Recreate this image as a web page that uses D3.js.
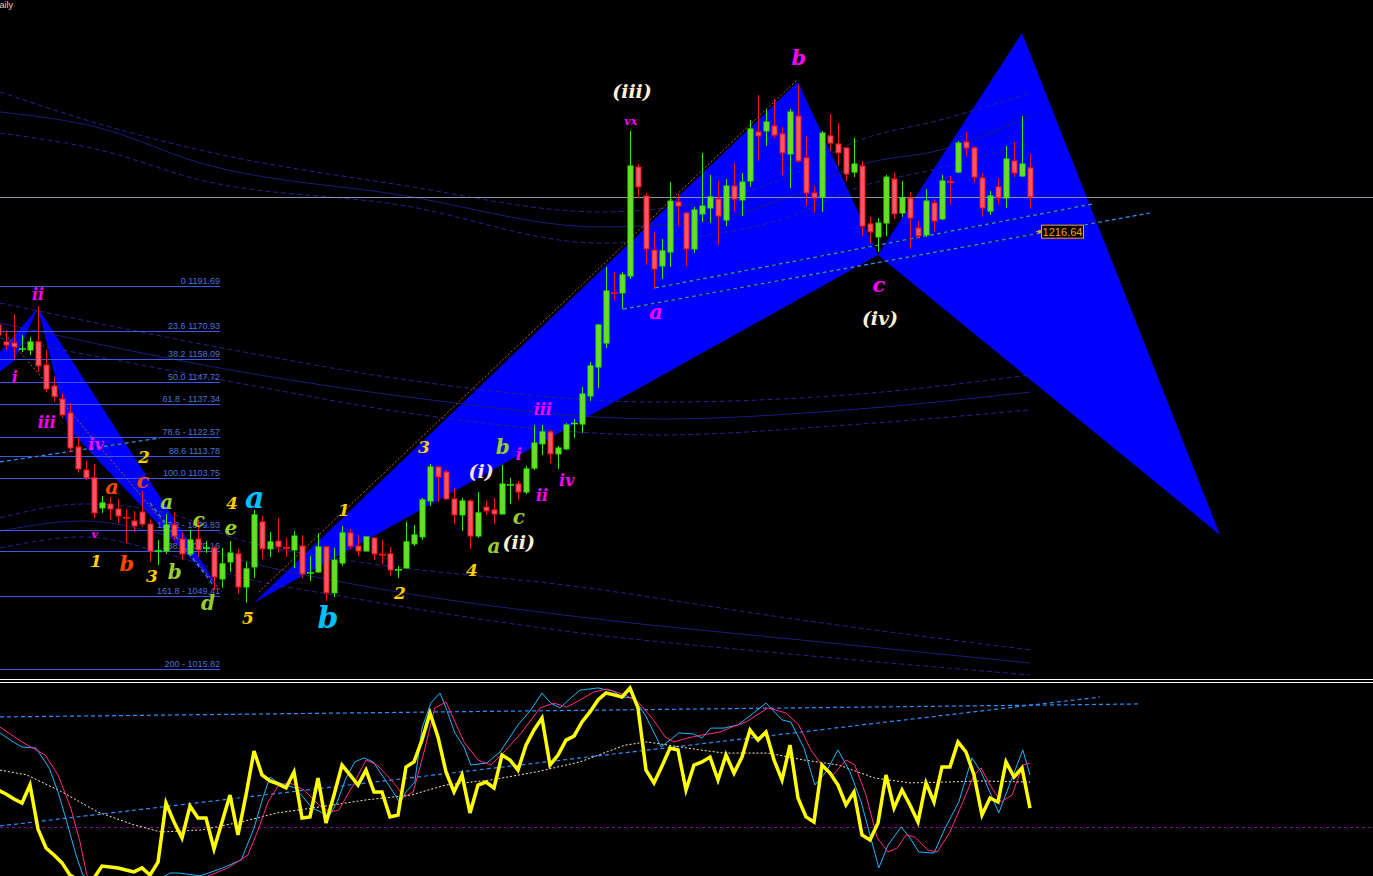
<!DOCTYPE html>
<html><head><meta charset="utf-8">
<script src="https://cdn.jsdelivr.net/npm/d3@7"></script>
<style>html,body{margin:0;padding:0;background:#000;overflow:hidden}</style>
</head><body>
<svg id="c" width="1373" height="876"></svg>
<script>
// ---------------- DATA ----------------
const opens = [1173.8,1166.0,1165.5,1162.7,1162.3,1166.1,1155.4,1145.8,1139.8,1133.4,
1117.8,1107.2,1103.6,1089.8,1091.6,1089.3,1085.6,1083.8,1087.9,1082.4,
1069.8,1070.0,1082.0,1075.5,1068.7,1075.5,1071.2,1071.4,1057.2,1065.0,
1068.7,1053.5,1062.7,1083.4,1071.0,1074.6,1071.9,1070.5,1072.3,1059.7,
1060.4,1071.9,1050.8,1064.5,1078.3,1072.3,1070.0,1076.0,1068.7,1068.7,
1061.1,1062.2,1073.3,1076.5,1093.0,1108.6,1106.3,1093.9,1086.6,1093.0,
1076.9,1090.2,1088.9,1087.0,1100.1,1100.8,1097.1,1108.1,1119.2,1124.7,
1114.6,1116.9,1128.3,1128.3,1141.2,1154.5,1165.5,1188.7,1188.5,1196.3,
1246.3,1233.0,1208.2,1200.9,1207.3,1230.3,1225.2,1208.7,1224.8,1227.5,
1231.6,1222.0,1237.6,1231.2,1239.9,1262.4,1262.9,1265.2,1261.5,1252.3,
1269.7,1250.5,1234.4,1232.6,1260.6,1256.9,1255.1,1244.0,1246.8,1220.2,
1214.2,1220.6,1240.8,1225.2,1232.1,1218.3,1215.1,1229.8,1222.5,1239.9,
1244.0,1257.8,1255.1,1241.3,1226.1,1237.2,1232.1,1249.1,1242.2,1245.9];
const highs = [1176.1,1171.5,1178.8,1169.2,1168.3,1182.5,1162.3,1149.9,1142.6,1138.0,
1122.4,1111.4,1110.0,1095.3,1094.8,1093.9,1089.3,1088.4,1097.6,1084.7,
1075.1,1087.0,1087.9,1078.8,1079.7,1084.3,1074.6,1072.3,1071.4,1074.6,
1071.0,1065.0,1088.9,1086.1,1078.8,1085.2,1076.0,1079.2,1077.4,1067.7,
1078.3,1072.3,1071.4,1081.5,1080.1,1077.4,1076.5,1076.5,1075.1,1071.9,
1063.2,1083.4,1082.0,1094.4,1110.0,1109.1,1107.2,1099.0,1094.4,1093.9,
1097.1,1093.0,1094.4,1109.5,1103.6,1102.2,1109.1,1127.9,1127.9,1125.6,
1118.2,1128.8,1130.6,1145.3,1156.8,1174.3,1200.4,1198.1,1198.1,1262.9,
1247.7,1234.4,1216.5,1213.3,1239.4,1233.9,1225.7,1228.0,1252.8,1242.7,
1239.9,1240.8,1248.2,1243.6,1267.9,1279.4,1273.0,1277.6,1264.7,1273.0,
1284.0,1260.6,1237.6,1262.9,1270.7,1266.5,1255.5,1259.6,1249.1,1223.4,
1222.9,1242.7,1243.6,1239.9,1234.9,1221.5,1236.2,1231.6,1242.7,1242.2,
1258.3,1262.4,1256.0,1243.6,1235.3,1241.3,1256.0,1257.8,1269.7,1252.3];
const lows = [1164.6,1162.3,1158.2,1161.4,1160.0,1152.4,1143.0,1138.4,1131.1,1115.5,
1105.9,1102.6,1085.2,1087.5,1084.3,1082.9,1073.7,1078.8,1081.1,1065.0,
1063.6,1068.7,1075.1,1065.9,1067.7,1067.3,1069.1,1052.1,1053.1,1060.4,
1050.3,1046.2,1057.6,1066.4,1067.3,1069.1,1067.3,1062.2,1057.6,1056.3,
1059.9,1047.1,1048.9,1063.2,1071.0,1067.7,1070.0,1065.9,1064.1,1058.6,
1057.6,1062.2,1072.3,1075.1,1090.7,1092.5,1093.5,1082.4,1079.2,1071.0,
1076.0,1086.6,1082.4,1087.0,1091.6,1093.5,1096.2,1107.2,1114.1,1110.4,
1107.7,1116.4,1121.9,1124.2,1138.9,1144.9,1163.2,1184.8,1181.1,1194.9,
1232.1,1201.3,1190.3,1194.9,1200.4,1219.2,1200.9,1206.9,1221.1,1220.6,
1210.5,1219.2,1226.1,1223.8,1237.2,1249.1,1256.0,1259.6,1242.7,1236.7,
1248.2,1228.4,1225.2,1225.7,1253.7,1246.8,1239.9,1241.7,1214.6,1211.4,
1207.3,1214.6,1222.5,1223.4,1208.7,1213.7,1214.2,1216.5,1222.0,1228.9,
1243.6,1250.9,1239.0,1223.4,1224.3,1228.9,1227.5,1241.7,1241.7,1227.1];
const closes = [1169.2,1164.6,1163.8,1162.9,1166.0,1155.0,1144.4,1140.9,1132.5,1117.3,
1107.7,1103.6,1087.5,1092.1,1089.3,1086.1,1084.9,1081.5,1082.4,1070.0,
1070.3,1082.0,1076.9,1068.7,1075.1,1070.5,1071.6,1058.1,1064.1,1069.1,
1053.5,1061.8,1086.6,1071.0,1074.2,1071.9,1071.0,1076.9,1059.5,1060.2,
1071.9,1050.8,1065.9,1078.3,1072.3,1070.0,1076.5,1068.7,1067.9,1061.3,
1061.6,1074.2,1077.4,1093.5,1108.6,1104.0,1093.9,1086.6,1093.0,1076.9,
1087.5,1088.4,1087.0,1100.8,1100.6,1097.1,1107.7,1119.6,1124.7,1114.6,
1117.3,1127.9,1128.8,1142.1,1155.0,1173.8,1189.4,1188.2,1196.8,1246.8,
1237.2,1208.7,1199.5,1207.8,1230.7,1228.4,1208.7,1226.6,1228.4,1232.6,
1223.8,1237.6,1231.6,1239.4,1263.8,1260.6,1267.0,1261.0,1252.8,1271.6,
1249.1,1234.4,1232.1,1261.9,1257.3,1252.8,1243.1,1247.7,1219.2,1216.5,
1220.6,1241.7,1224.8,1232.1,1222.9,1214.7,1230.7,1221.5,1239.9,1239.0,
1257.3,1255.1,1241.7,1227.5,1233.0,1232.1,1250.0,1243.6,1247.7,1232.6];

// harmonic patterns: X, A, B, C, D  (bar index, price)
const bigPatIdx = [32, 100, 110, 128, 152.75];
const bigPatPrice = [1046.2, 1285.4, 1205.9, 1307.8, 1077.4];
const leftPatIdx = [-6, 2, 5, 8.75, 27.75];
const leftPatPrice = [1134.8, 1157.3, 1181.6, 1126.5, 1052.1];

// fibonacci retracement
const fibLevels = ["0","23.6","38.2","50.0","61.8 -","78.6 -","88.6","100.0","127.2 -","138.2","161.8 -","200 -"];
const fibPrices = [1191.69,1170.93,1158.09,1147.72,1137.34,1122.57,1113.78,1103.75,1079.83,1070.16,1049.41,1015.82];
const fibEndIdx = 27.75;

// envelope bands (bar index, price)
const bandIdx = [0.25, 12.75, 25.25, 50.25, 75.25, 87.75, 97.75, 107.75, 117.75, 129];
const bandU1 = [1280.8, 1266.0, 1254.1, 1238.1, 1225.7, 1229.8, 1240.4, 1258.7, 1267.9, 1280.3];
const bandU2 = [1271.6, 1264.2, 1248.2, 1233.5, 1218.8, 1221.1, 1231.2, 1247.3, 1254.1, 1269.3];
const bandU3 = [1261.9, 1254.1, 1240.4, 1228.9, 1211.4, 1214.7, 1222.0, 1237.2, 1245.9, 1257.4];
const midIdx = [0.25, 32.75, 50.25, 82.75, 106.25, 129];
const bandM1 = [1183.9, 1160.0, 1149.0, 1138.4, 1141.7, 1150.8];
const bandM2 = [1174.7, 1150.8, 1141.2, 1130.6, 1134.8, 1143.0];
const bandM3 = [1167.8, 1145.3, 1133.9, 1123.3, 1127.9, 1134.8];
const lowIdx = [0.25, 10.75, 20.75, 30.25, 43.5, 72.75, 100.25, 129];
const bandL1 = [1085.2, 1091.6, 1087.9, 1075.1, 1065.9, 1053.5, 1038.4, 1024.6];
const bandL2 = [1079.2, 1083.8, 1077.4, 1065.9, 1055.4, 1039.7, 1029.2, 1018.6];
const bandL3 = [1071.4, 1076.5, 1069.1, 1058.1, 1048.9, 1032.4, 1022.3, 1013.1];

// trend lines [idx0, idx1], [price0, price1]
const trendIdx = [[82.125, 136.75], [78.125, 144], [0.25, 20.25], [19, 26.9]];
const trendPrice = [[1190.8, 1229.3], [1181.1, 1225.2], [1110.9, 1121.9], [1092.1, 1054.4]];
const brownIdx = [[0.25, 28], [32.6, 99.9]];
const brownPrice = [[1172.4, 1051.2], [1051.2, 1286.3]];
const priceTag = 1216.64, priceTagIdx = 130.25;
const bidPrice = 1232.6;

// wave labels
const waveText = ["ii","i","iii","iv","v","2","c","a","1","b","3","a","c","b","e","d","4","a","5","b","1","2","3","4","(i)","b","i","c","a","(ii)","ii","iv","iii","(iii)","vx","a","b","c","(iv)"];
const waveIdx = [5,2.1,6.1,12.25,12.1,18.25,18.1,14.25,12.25,16.1,19.25,21.1,25.1,22.1,29.1,26.25,29.25,32.1,31.25,41.25,43.25,50.25,53.25,59.25,60.4,63.1,65.1,65.1,62,65.1,68,71.1,68.1,79.25,79.1,82.25,100.1,110.1,110.25];
const wavePrice = [1188.0,1149.9,1128.8,1118.7,1077.4,1113.2,1102.6,1099.4,1065.4,1064.5,1058.6,1092.5,1084.3,1060.4,1080.6,1046.2,1092.1,1094.4,1039.3,1039.7,1088.9,1050.7,1117.8,1061.3,1106.8,1117.8,1114.1,1085.6,1072.3,1074.2,1095.3,1102.2,1135.2,1281.2,1267.4,1179.8,1296.8,1192.2,1177.0];
const waveDegree = ["sub","sub","sub","sub","tiny","num","orng","orng","num","orng","num","grn","grn","grn","grn","grn","num","big","num","big","num","num","num","num","pink","grn","sub","grn","grn","cream","sub","sub","sub","cream","tiny","subL","subL","subL","cream"];

// oscillator (0..100)
const oscMain = [47.6,45.7,43.3,41.4,50.0,29.0,20.0,16.7,12.9,7.1,
4.8,3.8,5.7,11.4,11.0,10.5,9.5,8.6,10.5,7.1,
13.3,41.4,32.4,24.8,40.0,34.3,34.3,19.5,32.4,45.2,
26.2,45.2,66.2,54.8,51.9,50.5,48.6,56.2,34.3,34.8,
53.3,31.9,45.2,59.5,54.8,50.0,57.1,46.7,46.7,34.8,
35.7,58.6,61.0,71.4,84.3,72.9,56.2,46.7,54.8,36.7,
50.0,51.4,48.6,64.3,61.9,57.1,69.0,76.2,81.9,59.5,
64.3,71.4,73.3,80.0,84.8,90.5,93.8,92.9,91.9,96.2,
86.7,57.1,51.0,59.0,67.6,66.7,47.6,59.5,61.0,63.3,
52.4,64.3,55.7,63.3,76.2,71.4,75.2,61.9,52.4,69.0,
43.8,34.8,32.4,59.5,55.7,50.0,40.5,46.7,26.2,23.8,
31.9,54.8,39.0,47.6,40.5,32.4,51.0,41.9,58.6,58.6,
70.5,65.7,54.8,35.7,43.8,41.9,61.0,53.8,58.1,39.0];
const cyanIdx = [0.25,1.9,3,4.75,6.4,7.5,8.6,9.75,10.6,12.75,19,21.5,22.6,25.25,28.1,30.4,32,33.1,34,34.9,36,37.1,38.25,39.25,40.4,41.25,42.4,43.5,44.6,45.75,46.9,48.25,49.4,50.25,51,52.1,53,54.1,55.25,56,57.1,58.25,59.1,61.1,62.75,65,66.6,68,69.1,70.25,71.6,72.75,75,76.75,78.1,79.5,80.9,82.9,84,85.1,86.9,88,89.1,90.75,92.5,94.1,96,98,99.1,100.75,102.1,103.5,105,106.5,107.9,109,110.1,111.25,112.9,114,115.1,117,118.4,120.1,121.75,122.9,125.1,126.75,128.1,129];
const cyanVal = [74.8,70.5,68.1,67.6,58.1,46.7,32.4,16.7,7.1,2.4,2.4,8.1,8.1,6.7,10.5,14.3,29.5,43.8,53.8,51.4,50.0,48.6,43.8,39.0,37.1,34.3,41.9,53.3,61.0,62.9,61.0,53.3,46.7,41.4,46.7,51.4,77.1,89.0,93.8,86.7,74.8,68.1,59.5,60.5,65.7,78.6,85.7,93.8,89.0,86.7,91.4,95.2,96.2,94.8,91.9,91.4,83.3,68.1,71.4,74.8,74.3,72.4,77.1,77.1,78.6,83.3,89.0,81.0,80.0,67.6,50.0,56.2,66.7,56.2,41.9,26.2,10.5,21.4,30.0,24.8,18.1,17.6,29.5,41.9,62.9,56.2,36.7,53.3,66.7,54.8];
const pinkIdx = [0.25,3,5.9,7.5,9.1,10.25,11.1,12.75,22.6,28.75,31.25,32.6,33.75,35.1,36.5,38.25,40.1,41.5,42.6,44.4,46,47.4,49.4,50.75,51.9,53.25,54.6,56,56.9,58.25,60,61.6,63.25,65.5,67.75,69.5,71.1,72.75,74.5,76.1,78.4,80,81.75,83.4,84.5,86.25,88,90.25,91.4,93.5,96.25,98.5,100.1,101.6,103,104.4,106,107.1,108.5,109.9,111.25,112.4,113.5,114.6,116.25,117.4,119,120.6,122,122.9,124,125.4,126.75,128.1,129];
const pinkVal = [77.6,70.5,64.3,54.8,39.0,22.9,7.1,1.0,1.0,10.5,16.7,29.5,41.9,50.0,51.0,47.6,40.5,37.1,38.1,50.0,61.9,59.5,51.4,44.3,46.7,65.7,86.7,89.5,81.9,70.5,61.9,59.5,65.7,75.2,86.7,89.0,87.1,90.5,94.3,95.7,92.9,89.5,81.9,72.9,70.5,72.4,73.8,75.2,77.1,80.0,86.7,84.3,78.6,66.7,59.5,54.8,61.9,59.5,45.2,24.8,18.1,20.0,26.2,25.2,19.0,18.1,27.6,41.9,54.8,58.1,50.0,41.9,45.2,59.5,60.5];
const signalIdx = [0.25,3.6,8,12.5,17,20.4,25.4,30.4,34.9,39.25,46,51.6,56,61.6,67.25,72.75,78.4,81.1,87.75,90.75,96.25,100.75,105.1,109.6,114,118.4,122.9,129];
const signalVal = [57.1,54.8,46.7,37.1,31.0,27.6,28.6,32.4,36.7,39.0,42.9,45.2,50.0,52.4,56.2,61.0,69.0,70.5,66.7,65.2,65.2,61.9,59.5,53.3,51.0,51.4,51.9,51.4];
const oscLevelIdx = [[0.25, 142.75], [0.25, 137.75]];
const oscLevelVal = [[82.4, 88.6], [30.5, 91.9]];
const oscFloor = 30;

// ---------------- DRAW ----------------
const W = 1373, H = 876, MAINB = 678, OSCT = 683;
const svg = d3.select('#c');
svg.append('rect').attr('width', W).attr('height', H).attr('fill', '#000');
const defs = svg.append('defs');
defs.append('clipPath').attr('id','cm').append('rect').attr('x',0).attr('y',0).attr('width',W).attr('height',MAINB);
defs.append('clipPath').attr('id','co').append('rect').attr('x',0).attr('y',OSCT).attr('width',W).attr('height',H-OSCT);

const x = d3.scaleLinear().domain([0, 129]).range([-2, 1030]);
const y = d3.scaleLinear().domain([1011.7, 1323.0]).range([MAINB, 0]);
const yo = d3.scaleLinear().domain([0, 100]).range([890, 680]);

const g = svg.append('g').attr('clip-path','url(#cm)');

// patterns
function tri(idx, pr, a, b, c) {
  return [[x(idx[a]), y(pr[a])], [x(idx[b]), y(pr[b])], [x(idx[c]), y(pr[c])]].map(p => p.join(',')).join(' ');
}
[[bigPatIdx, bigPatPrice], [leftPatIdx, leftPatPrice]].forEach(([pi, pp]) => {
  g.append('polygon').attr('points', tri(pi, pp, 0, 1, 2)).attr('fill', '#0000ff');
  g.append('polygon').attr('points', tri(pi, pp, 2, 3, 4)).attr('fill', '#0000ff');
});

// bands
const bl = d3.line().curve(d3.curveMonotoneX);
function band(ix, vals, dashed) {
  g.append('path').attr('d', bl(ix.map((d, i) => [x(d), y(vals[i])])))
    .attr('fill', 'none').attr('stroke', dashed ? '#23238f' : '#1c1c7e').attr('stroke-width', 1)
    .attr('stroke-dasharray', dashed ? '5,3' : null);
}
band(bandIdx, bandU1, true); band(bandIdx, bandU2, false); band(bandIdx, bandU3, true);
band(midIdx, bandM1, true); band(midIdx, bandM2, false); band(midIdx, bandM3, true);
band(lowIdx, bandL1, true); band(lowIdx, bandL2, false); band(lowIdx, bandL3, true);

// brown dotted lines
brownIdx.forEach((bi, i) => {
  g.append('line').attr('x1', x(bi[0])).attr('y1', y(brownPrice[i][0])).attr('x2', x(bi[1])).attr('y2', y(brownPrice[i][1]))
    .attr('stroke', '#c0601a').attr('stroke-width', 1).attr('stroke-dasharray', '2,2');
});

// fib lines
const fibG = g.append('g');
fibPrices.forEach((p, i) => {
  fibG.append('line').attr('x1', 0).attr('x2', x(fibEndIdx)).attr('y1', Math.round(y(p)) + 0.5).attr('y2', Math.round(y(p)) + 0.5)
    .attr('stroke', '#3a5ae6').attr('stroke-width', 1);
  fibG.append('text').attr('x', x(fibEndIdx)).attr('y', Math.round(y(p)) - 2).attr('text-anchor', 'end')
    .attr('font-family', 'Liberation Sans, Arial, sans-serif').attr('font-size', 9).attr('fill', '#4f70dc')
    .text(fibLevels[i] + ' ' + p.toFixed(2));
});

// bid line
g.append('line').attr('x1', 0).attr('x2', W).attr('y1', Math.round(y(bidPrice)) + 0.5).attr('y2', Math.round(y(bidPrice)) + 0.5)
  .attr('stroke', '#8c92aa').attr('stroke-width', 1);

// trend lines
trendIdx.forEach((ti, i) => {
  const a = [x(ti[0]), y(trendPrice[i][0])], b = [x(ti[1]), y(trendPrice[i][1])];
  g.append('line').attr('x1', a[0]).attr('y1', a[1]).attr('x2', b[0]).attr('y2', b[1]).attr('stroke', '#000').attr('stroke-width', 1);
  g.append('line').attr('x1', a[0]).attr('y1', a[1]).attr('x2', b[0]).attr('y2', b[1]).attr('stroke', '#2b95ff').attr('stroke-width', 1.2).attr('stroke-dasharray', '4,3');
});

// candles
const cg = g.append('g');
opens.forEach((o, i) => {
  const c = closes[i], h = highs[i], l = lows[i];
  const up = c >= o;
  const cx = Math.round(x(i)) + 0.5;
  const wick = up ? '#33ee00' : '#ff1010';
  cg.append('line').attr('x1', cx).attr('x2', cx).attr('y1', y(h)).attr('y2', y(l)).attr('stroke', wick).attr('stroke-width', 1);
  const top = y(Math.max(o, c)), bot = y(Math.min(o, c));
  const hgt = Math.max(bot - top, 1);
  if (hgt < 2.5) {
    cg.append('line').attr('x1', cx - 3.5).attr('x2', cx + 3.5).attr('y1', (top + bot) / 2).attr('y2', (top + bot) / 2)
      .attr('stroke', wick).attr('stroke-width', Math.max(hgt, 1.5));
  } else {
    cg.append('rect').attr('x', cx - 2.5).attr('y', top).attr('width', 5).attr('height', hgt)
      .attr('fill', up ? '#6fd82c' : '#e85a6c').attr('stroke', up ? '#33ee00' : '#ff1010').attr('stroke-width', 1);
  }
});

// price tag
const tagY = y(priceTag), tagX = x(priceTagIdx);
g.append('line').attr('x1', tagX - 4).attr('x2', tagX + 1).attr('y1', tagY).attr('y2', tagY).attr('stroke', '#ffa500');
g.append('rect').attr('x', tagX - 2).attr('y', tagY - 1.5).attr('width', 3).attr('height', 3).attr('fill', '#ffa500');
g.append('rect').attr('x', tagX + 1.5).attr('y', tagY - 6.5).attr('width', 42).attr('height', 13)
  .attr('fill', '#000').attr('stroke', '#ffa500').attr('stroke-width', 1);
g.append('text').attr('x', tagX + 22.5).attr('y', tagY + 4).attr('text-anchor', 'middle')
  .attr('font-family', 'Liberation Sans, Arial, sans-serif').attr('font-size', 11).attr('fill', '#ffa500')
  .text(priceTag.toFixed(2));

// wave labels
const degStyle = {
  sub:   {fill: '#ff00ff', size: 16},
  subL:  {fill: '#ff00ff', size: 21},
  tiny:  {fill: '#ff00ff', size: 11},
  num:   {fill: '#ffcc00', size: 17},
  orng:  {fill: '#ff4500', size: 21},
  grn:   {fill: '#9acd32', size: 20},
  big:   {fill: '#00bfff', size: 30},
  pink:  {fill: '#ffe0ee', size: 19},
  cream: {fill: '#fff0d8', size: 19}
};
const lg = g.append('g').attr('font-family', 'DejaVu Serif, serif').attr('font-weight', 'bold').attr('font-style', 'italic');
waveText.forEach((t, i) => {
  const st = degStyle[waveDegree[i]];
  lg.append('text').attr('x', x(waveIdx[i])).attr('y', y(wavePrice[i])).attr('text-anchor', 'middle')
    .attr('dominant-baseline', 'central').attr('font-size', st.size).attr('fill', st.fill).text(t);
});

// title
svg.append('text').attr('x', -7).attr('y', 8).attr('font-family', 'Liberation Sans, Arial, sans-serif').attr('font-size', 9)
  .attr('fill', '#f2d3a8').text('Daily');

// separator
[679.5, 682.5].forEach(v => svg.append('line').attr('x1', 0).attr('x2', W).attr('y1', v).attr('y2', v).attr('stroke', '#fff').attr('stroke-width', 1));

// oscillator
const og = svg.append('g').attr('clip-path', 'url(#co)');
og.append('line').attr('x1', 0).attr('x2', W).attr('y1', Math.round(yo(oscFloor)) + 0.5).attr('y2', Math.round(yo(oscFloor)) + 0.5)
  .attr('stroke', '#8a0a9a').attr('stroke-width', 1).attr('stroke-dasharray', '3,3');
oscLevelIdx.forEach((li, i) => {
  og.append('line').attr('x1', x(li[0])).attr('x2', x(li[1])).attr('y1', yo(oscLevelVal[i][0])).attr('y2', yo(oscLevelVal[i][1]))
    .attr('stroke', '#2b8fff').attr('stroke-width', 1.2).attr('stroke-dasharray', '4,3');
});
const ol = d3.line();
og.append('path').attr('d', ol(signalIdx.map((d, i) => [x(d), yo(signalVal[i])]))).attr('fill', 'none')
  .attr('stroke', '#ffe8c8').attr('stroke-width', 1).attr('stroke-dasharray', '2,2');
og.append('path').attr('d', ol(cyanIdx.map((d, i) => [x(d), yo(cyanVal[i])]))).attr('fill', 'none')
  .attr('stroke', '#1ab8ff').attr('stroke-width', 1);
og.append('path').attr('d', ol(pinkIdx.map((d, i) => [x(d), yo(pinkVal[i])]))).attr('fill', 'none')
  .attr('stroke', '#ff2a8a').attr('stroke-width', 1);
og.append('path').attr('d', ol(oscMain.map((v, i) => [x(i), yo(v)]))).attr('fill', 'none')
  .attr('stroke', '#ffff00').attr('stroke-width', 3.5).attr('stroke-linejoin', 'miter');
</script></body></html>
